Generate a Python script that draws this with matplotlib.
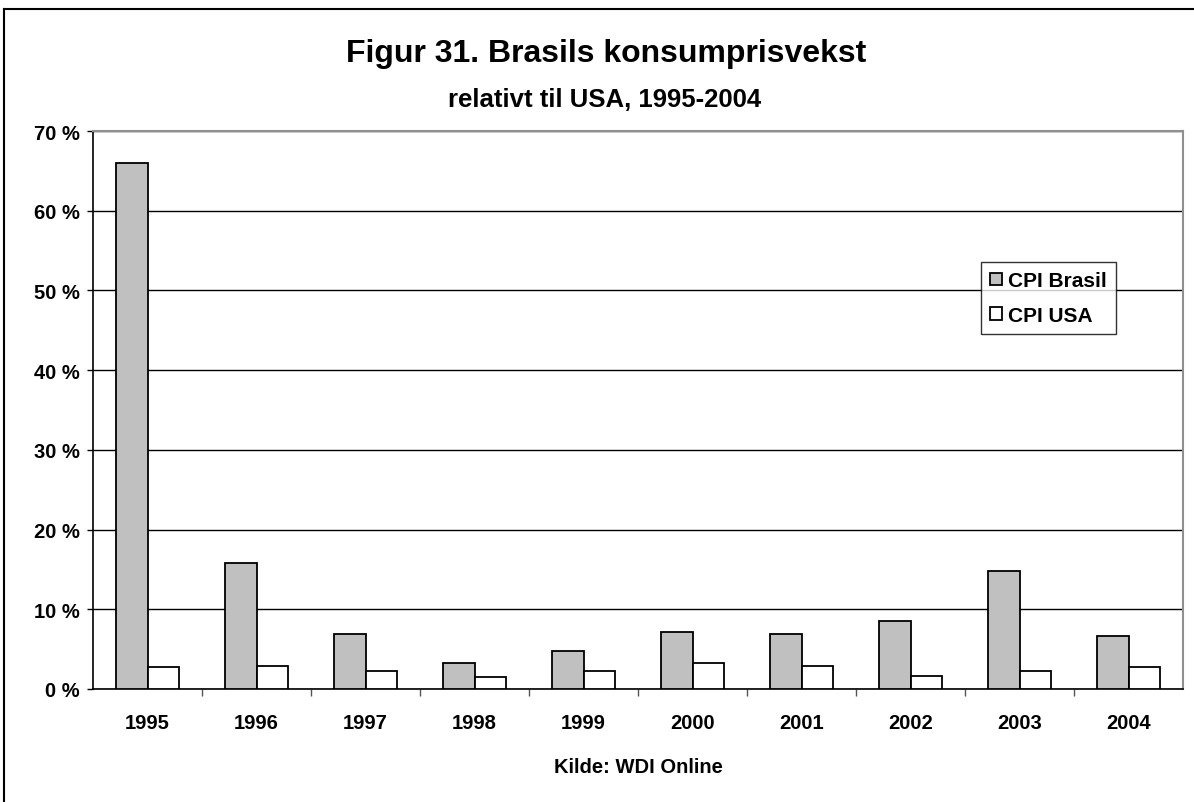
import numpy as np
import matplotlib
matplotlib.use("Agg")
import matplotlib.pyplot as plt
from matplotlib.lines import Line2D
from matplotlib.ticker import FixedLocator

years = ['1995', '1996', '1997', '1998', '1999', '2000', '2001', '2002', '2003', '2004']
cpi_brasil = [66.0, 15.8, 6.9, 3.2, 4.8, 7.1, 6.9, 8.5, 14.8, 6.6]
cpi_usa = [2.7, 2.9, 2.3, 1.5, 2.3, 3.3, 2.9, 1.6, 2.3, 2.7]
yticks = [0, 10, 20, 30, 40, 50, 60, 70]

plt.rcParams['font.family'] = ['Liberation Sans', 'DejaVu Sans']
plt.rcParams['font.weight'] = 'bold'

W, H = 1194, 803
fig = plt.figure(figsize=(W / 100, H / 100), dpi=100)
ax = fig.add_axes([93 / W, 1 - 690 / H, (1183 - 93) / W, (690 - 132) / H])

x = np.arange(len(years))
w = 0.29
ax.bar(x - w / 2, cpi_brasil, w, color='#c0c0c0', edgecolor='black', linewidth=1.3,
       label='CPI Brasil', zorder=3)
ax.bar(x + w / 2, cpi_usa, w, color='white', edgecolor='black', linewidth=1.3,
       label='CPI USA', zorder=3)

ax.set_xlim(-0.5, len(years) - 0.5)
ax.set_ylim(0, 70)
ax.set_yticks(yticks)
ax.set_yticklabels([f'{t} %' for t in yticks], fontsize=14.5, fontweight='bold')
ax.set_xticks(x)
ax.set_xticklabels(years, fontsize=14.5, fontweight='bold')
ax.tick_params(axis='x', length=0, pad=17)
ax.xaxis.set_minor_locator(FixedLocator(np.arange(0.5, len(years) - 0.5, 1)))
ax.tick_params(axis='x', which='minor', length=5, width=1, color='#555555', direction='out')
ax.tick_params(axis='y', length=4.5, width=1, direction='out', pad=5)
ax.grid(axis='y', color='black', linewidth=1, zorder=0)

for s in ['top', 'right']:
    ax.spines[s].set_color('#909090')
    ax.spines[s].set_linewidth(1.5)
for s in ['left', 'bottom']:
    ax.spines[s].set_color('black')
    ax.spines[s].set_linewidth(1.2)

ax.set_xlabel('Kilde: WDI Online', fontsize=14.5, fontweight='bold', labelpad=18)

leg = ax.legend(loc='upper left', bbox_to_anchor=((981 - 93) / 1090, (690 - 263) / 558),
                fontsize=15, frameon=True, fancybox=False, edgecolor='black',
                handlelength=0.55, handleheight=0.55, handletextpad=0.3,
                borderpad=0.45, labelspacing=0.75, borderaxespad=0)
leg.get_frame().set_linewidth(1)
for t in leg.get_texts():
    t.set_fontweight('bold')

fig.text(606 / W, 1 - 54 / H, 'Figur 31. Brasils konsumprisvekst', ha='center', va='center',
         fontsize=23, fontweight='bold')
fig.text(605 / W, 1 - 100 / H, 'relativt til USA, 1995-2004', ha='center', va='center',
         fontsize=18.5, fontweight='bold')

# outer frame (only top and left edges fall inside the image)
fig.add_artist(Line2D([4 / W, 1.0], [1 - 10 / H, 1 - 10 / H], transform=fig.transFigure,
                      color='black', linewidth=1.5))
fig.add_artist(Line2D([4 / W, 4 / W], [0.0, 1 - 10 / H], transform=fig.transFigure,
                      color='black', linewidth=1.5))

fig.savefig('out.png', dpi=100)
